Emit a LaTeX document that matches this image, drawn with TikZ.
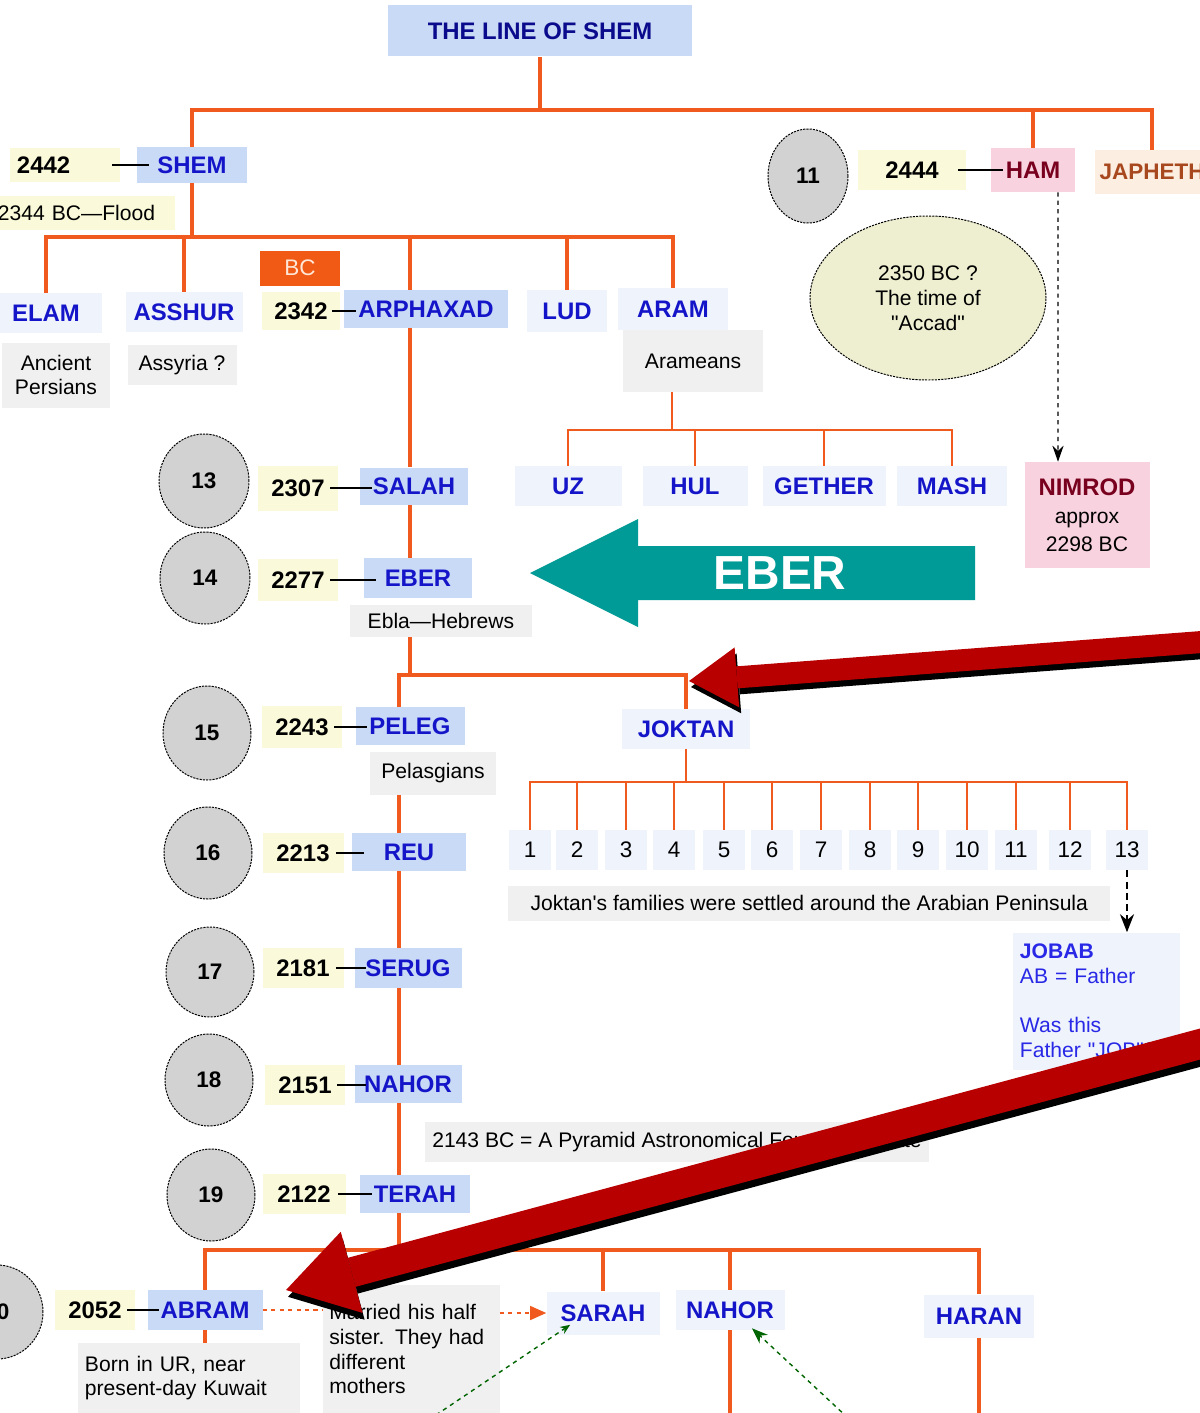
\documentclass[tikz,border=0pt]{standalone}
\usepackage{fontspec}
\setmainfont{Liberation Sans}
\usetikzlibrary{shapes.geometric, arrows.meta}

\definecolor{treeorange}{RGB}{240,90,30}
\definecolor{mainfill}{RGB}{200,218,246}
\definecolor{palefill}{RGB}{238,243,252}
\definecolor{numfill}{RGB}{250,250,218}
\definecolor{notefill}{RGB}{240,240,240}
\definecolor{nameblue}{RGB}{20,20,200}
\definecolor{titleblue}{RGB}{10,10,140}
\definecolor{hamfill}{RGB}{248,210,222}
\definecolor{hamtext}{RGB}{120,0,30}
\definecolor{japhfill}{RGB}{252,238,224}
\definecolor{japhtext}{RGB}{168,72,30}
\definecolor{bcfill}{RGB}{240,90,20}
\definecolor{bctext}{RGB}{255,230,215}
\definecolor{circfill}{RGB}{210,210,210}
\definecolor{accadfill}{RGB}{238,238,208}
\definecolor{tealc}{RGB}{0,155,150}
\definecolor{pointred}{RGB}{185,0,0}
\definecolor{jobtext}{RGB}{40,40,230}
\definecolor{darkgreen}{RGB}{0,100,0}

\newcommand\namefont{\bfseries\fontsize{17}{20}\selectfont}
\newcommand\notefont{\fontsize{15}{17.7}\selectfont}
\newcommand\genfont{\bfseries\fontsize{16}{19}\selectfont}

\begin{document}
\begin{tikzpicture}[
    x=0.025cm, y=-0.025cm,
    >=Stealth,
    sz/.style 2 args={minimum width=#1*0.025cm, minimum height=#2*0.025cm},
    person/.style={rectangle, fill=mainfill, text=nameblue, inner sep=0pt, font=\namefont},
    kin/.style={person, fill=palefill},
    year/.style={rectangle, fill=numfill, inner sep=0pt, font=\namefont},
    num/.style={kin, sz={42}{40}, text=black, font=\fontsize{16}{19}\selectfont},
    note/.style={rectangle, fill=notefill, inner sep=0pt, align=center, font=\notefont},
    lnote/.style={note, align=left, inner xsep=0.17cm},
    gen/.style={ellipse, draw=black, line width=0.7pt, dash pattern=on 1.5pt off 0.8pt,
                fill=circfill, inner sep=0pt, font=\genfont},
    tree/.style={draw=treeorange, line width=2.2pt},
    subtree/.style={draw=treeorange, line width=1.3pt},
    link/.style={draw=black, line width=2pt, shorten <=-0.2cm, shorten >=-0.3cm},
    hint/.style={draw=black, dashed, line width=0.8pt, -{Stealth[length=0.4cm, width=0.28cm]}},
    wedlock/.style={draw=treeorange, dashed, line width=1pt},
    kinhint/.style={draw=darkgreen, dashed, line width=1pt, -{Stealth[length=0.4cm, width=0.3cm]}},
    pointer/.style={draw=pointred, line width=0.55cm,
                    -{Triangle[length=1.2cm, width=1.5cm, line width=0pt]}},
    bigpointer/.style={draw=pointred, line width=0.75cm,
                       -{Triangle[length=1.7cm, width=2.1cm, line width=0pt]}}
]
\fill[white] (0,0) rectangle (1200,1413);
\useasboundingbox (0,0) rectangle (1200,1413);

\node[person, sz={304}{51}, text=titleblue] (title) at (540,31) {THE LINE OF SHEM};

% Noah's sons
\node[year, sz={110}{34}, text width=2.4cm, align=left, inner xsep=0.175cm] (y2442) at (65,165) {2442};
\node[person, sz={110}{36}] (shem) at (192,165) {SHEM};
\node[year, sz={180}{34}, text width=4.35cm, align=left, inner xsep=0.075cm, font=\notefont] (flood) at (85,213) {2344 BC—Flood};
\node[gen, sz={80}{94}] (g11) at (808,176) {11};
\node[year, sz={108}{40}] (y2444) at (912,170) {2444};
\node[person, sz={84}{44}, fill=hamfill, text=hamtext] (ham) at (1033,170) {HAM};
\node[person, sz={114}{44}, fill=japhfill, text=japhtext, font=\bfseries\fontsize{16}{19}\selectfont] (japheth) at (1152,172) {JAPHETH};
\node[gen, sz={236}{164}, fill=accadfill, font=\notefont, align=center] (accad) at (928,298)
    {2350 BC ?\\The time of\\\textquotedbl Accad\textquotedbl};
\node[person, sz={125}{106}, fill=hamfill, text=hamtext, align=center] (nimrod) at (1087,515)
    {NIMROD\\{\notefont\mdseries\color{black}approx}\\{\notefont\mdseries\color{black}2298 BC}};

% Shem's sons
\node[kin, sz={112}{40}] (elam) at (46,313) {ELAM};
\node[note, sz={108}{65}] (persians) at (56,375) {Ancient\\Persians};
\node[kin, sz={117}{40}] (asshur) at (184,312) {ASSHUR};
\node[note, sz={109}{40}] (assyria) at (182,365) {Assyria ?};
\node[rectangle, fill=bcfill, text=bctext, sz={80}{35}, inner sep=0pt, font=\fontsize{16}{19}\selectfont] (bc) at (300,268) {BC};
\node[year, sz={78}{38}] (y2342) at (301,311) {2342};
\node[person, sz={164}{38}] (arphaxad) at (426,309) {ARPHAXAD};
\node[kin, sz={80}{42}] (lud) at (567,311) {LUD};
\node[kin, sz={110}{42}] (aram) at (673,309) {ARAM};
\node[note, sz={140}{62}] (arameans) at (693,361) {Arameans};

% Aram's sons
\node[kin, sz={107}{40}] (uz) at (568,486) {UZ};
\node[kin, sz={105}{40}] (hul) at (695,486) {HUL};
\node[kin, sz={123}{40}] (gether) at (824,486) {GETHER};
\node[kin, sz={110}{40}] (mash) at (952,486) {MASH};

% the line down to Abram
\node[gen, sz={90}{94}] (g13) at (204,481) {13};
\node[year, sz={80}{45}] (y2307) at (298,488) {2307};
\node[person, sz={108}{37}] (salah) at (414,486) {SALAH};
\node[gen, sz={90}{92}] (g14) at (205,578) {14};
\node[year, sz={80}{42}] (y2277) at (298,580) {2277};
\node[person, sz={108}{40}] (eber) at (418,578) {EBER};
\node[note, sz={182}{32}] (ebla) at (441,621) {Ebla—Hebrews};
\node[gen, sz={88}{94}] (g15) at (207,733) {15};
\node[year, sz={80}{42}] (y2243) at (302,727) {2243};
\node[person, sz={109}{38}] (peleg) at (410,726) {PELEG};
\node[note, sz={126}{43}] (pelasg) at (433,773) {Pelasgians};
\node[kin, sz={128}{40}] (joktan) at (686,729) {JOKTAN};
\node[gen, sz={88}{92}] (g16) at (208,853) {16};
\node[year, sz={81}{40}] (y2213) at (303,853) {2213};
\node[person, sz={114}{38}] (reu) at (409,852) {REU};
\node[gen, sz={88}{90}] (g17) at (210,972) {17};
\node[year, sz={81}{40}] (y2181) at (303,968) {2181};
\node[person, sz={107}{40}] (serug) at (408,968) {SERUG};
\node[gen, sz={88}{92}] (g18) at (209,1080) {18};
\node[year, sz={80}{40}] (y2151) at (305,1085) {2151};
\node[person, sz={107}{38}] (nahor) at (408,1084) {NAHOR};
\node[lnote, anchor=west, sz={445}{40}, inner xsep=0.175cm] (pyramid) at (425,1142) {2143 BC = A Pyramid Astronomical Foundation date};
\node[gen, sz={88}{92}] (g19) at (211,1195) {19};
\node[year, sz={83}{40}] (y2122) at (304,1194) {2122};
\node[person, sz={110}{38}] (terah) at (415,1194) {TERAH};

% Terah's children
\node[gen, sz={92}{94}] (g20) at (-3,1312) {20};
\node[year, sz={80}{40}] (y2052) at (95,1310) {2052};
\node[person, sz={115}{40}] (abram) at (205,1310) {ABRAM};
\node[lnote, sz={222}{70}, text width=5.2cm] (born) at (189,1378) {Born in UR, near\\present-day Kuwait};
\node[lnote, sz={177}{128}, text width=4.08cm] (married) at (411,1349) {Married his half\\sister. They had\\different\\mothers};
\node[kin, sz={113}{43}] (sarah) at (603,1313) {SARAH};
\node[kin, sz={109}{40}] (nahorb) at (730,1310) {NAHOR};
\node[kin, sz={110}{43}] (haran) at (979,1316) {HARAN};

% Joktan's thirteen sons
\foreach \x/\n in {530/1, 577/2, 626/3, 674/4, 724/5, 772/6, 821/7, 870/8, 918/9, 967/10, 1016/11, 1070/12, 1127/13}
    \node[num] (j\n) at (\x,850) {\n};
\node[lnote, anchor=west, sz={602}{35}, inner xsep=0.125cm] (joknote) at (508,903) {Joktan\textquotesingle s families were settled around the Arabian Peninsula};
\node[lnote, fill=palefill, text=jobtext, sz={167}{137}, text width=3.8cm, inner xsep=0.175cm] (jobab) at (1096,1001)
    {{\bfseries JOBAB}\\AB = Father\\[17pt]Was this\\Father \textquotedbl JOB\textquotedbl ?};

% tree lines
\coordinate (upper) at (410,0);
\coordinate (lower) at (399,0);
\coordinate (sonsbus) at (540,110);
\coordinate (shembus) at (191,237);
\coordinate (arambus) at (672,430);
\coordinate (eberbus) at (410,675);
\coordinate (joktbus) at (686,782);
\coordinate (terahbus) at (399,1250);
\coordinate (bottom) at (0,1420);

\draw[tree] (title) -- (sonsbus);
\draw[tree] (shem.north) |- (sonsbus) -| (japheth.north);
\draw[tree] (sonsbus) -| (ham.north);
\draw[tree] (shem.south) -- (shem.south |- shembus);
\draw[tree] (elam.north) |- (shembus) -| (aram.north);
\draw[tree] (shembus) -| (asshur.north);
\draw[tree] (shembus) -| (arphaxad.north -| upper);
\draw[tree] (shembus) -| (lud.north);

\draw[subtree] (arameans.south -| arambus) -- (arambus);
\draw[subtree] (uz.north) |- (arambus) -| (mash.north);
\draw[subtree] (arambus) -| (hul.north);
\draw[subtree] (arambus) -| (gether.north);

\draw[tree] (arphaxad.south -| upper) -- (salah.north -| upper);
\draw[tree] (salah.south -| upper) -- (eber.north -| upper);
\draw[tree] (ebla.south -| upper) -- (eberbus);
\draw[tree] (peleg.north -| lower) |- (eberbus) -| (joktan.north);
\draw[tree] (pelasg.south -| lower) -- (reu.north -| lower);
\draw[tree] (reu.south -| lower) -- (serug.north -| lower);
\draw[tree] (serug.south -| lower) -- (nahor.north -| lower);
\draw[tree] (nahor.south -| lower) -- (terah.north -| lower);
\draw[tree] (terah.south -| lower) -- (terahbus);
\draw[tree] (abram.north) |- (terahbus) -| (haran.north);
\draw[tree] (terahbus) -| (sarah.north);
\draw[tree] (terahbus) -| (nahorb.north);
\draw[tree] (abram.south) -- (abram.south |- born.north);
\draw[tree] (nahorb.south) -- (nahorb.south |- bottom);
\draw[tree] (haran.south) -- (haran.south |- bottom);

\draw[subtree] (joktan.south) -- (joktbus);
\draw[subtree] (j1.north) |- (joktbus) -| (j13.north);
\foreach \n in {2,...,12}
    \draw[subtree] (joktbus) -| (j\n.north);

% birth years
\foreach \a/\b in {y2442/shem, y2444/ham, y2342/arphaxad, y2307/salah, y2277/eber, y2243/peleg,
                   y2213/reu, y2181/serug, y2151/nahor, y2122/terah, y2052/abram}
    \draw[link] (\a.east) -- (\a.east -| \b.west);

% hints
\draw[hint] ([xshift=0.625cm]ham.south) -- ([xshift=-0.725cm]nimrod.north);
\draw[hint, line width=1.6pt, dash pattern=on 5pt off 3pt, -{Stealth[length=0.45cm, width=0.35cm]}] (j13.south) -- (j13.south |- jobab.north);
\draw[wedlock] (abram.east) -- (abram.east -| married.west);
\draw[wedlock, -{Triangle[length=0.4cm, width=0.35cm]}] (married.east |- sarah.west) -- (sarah.west);
\coordinate (sarahhint) at (436,1415);
\coordinate (nahorhint) at (848,1418);
\draw[kinhint, -{Stealth[length=0.25cm, width=0.2cm]}] (sarahhint) -- ([xshift=0.6cm, yshift=0.25cm]sarah.south west);
\draw[kinhint] (nahorhint) -- ([xshift=0.55cm, yshift=0.05cm]nahorb.south);

% EBER banner
\fill[tealc] (530,573) -- (638,519) -- (638,546) -- (975,546) -- (975,600) -- (638,600) -- (638,627) -- cycle;
\node[text=white, font=\bfseries\fontsize{34}{40}\selectfont] (eberbanner) at (780,573) {EBER};

% red pointers
\coordinate (eberfrom) at (1215,641);
\coordinate (ebertip) at (689,681);
\coordinate (abramfrom) at (1215,1040);
\coordinate (abramtip) at (286,1290);
\draw[pointer, draw=black, transform canvas={xshift=0.05cm, yshift=-0.15cm}] (eberfrom) -- (ebertip);
\draw[pointer] (eberfrom) -- (ebertip);
\draw[bigpointer, draw=black, transform canvas={xshift=0.05cm, yshift=-0.17cm}] (abramfrom) -- (abramtip);
\draw[bigpointer] (abramfrom) -- (abramtip);
\end{tikzpicture}
\end{document}
